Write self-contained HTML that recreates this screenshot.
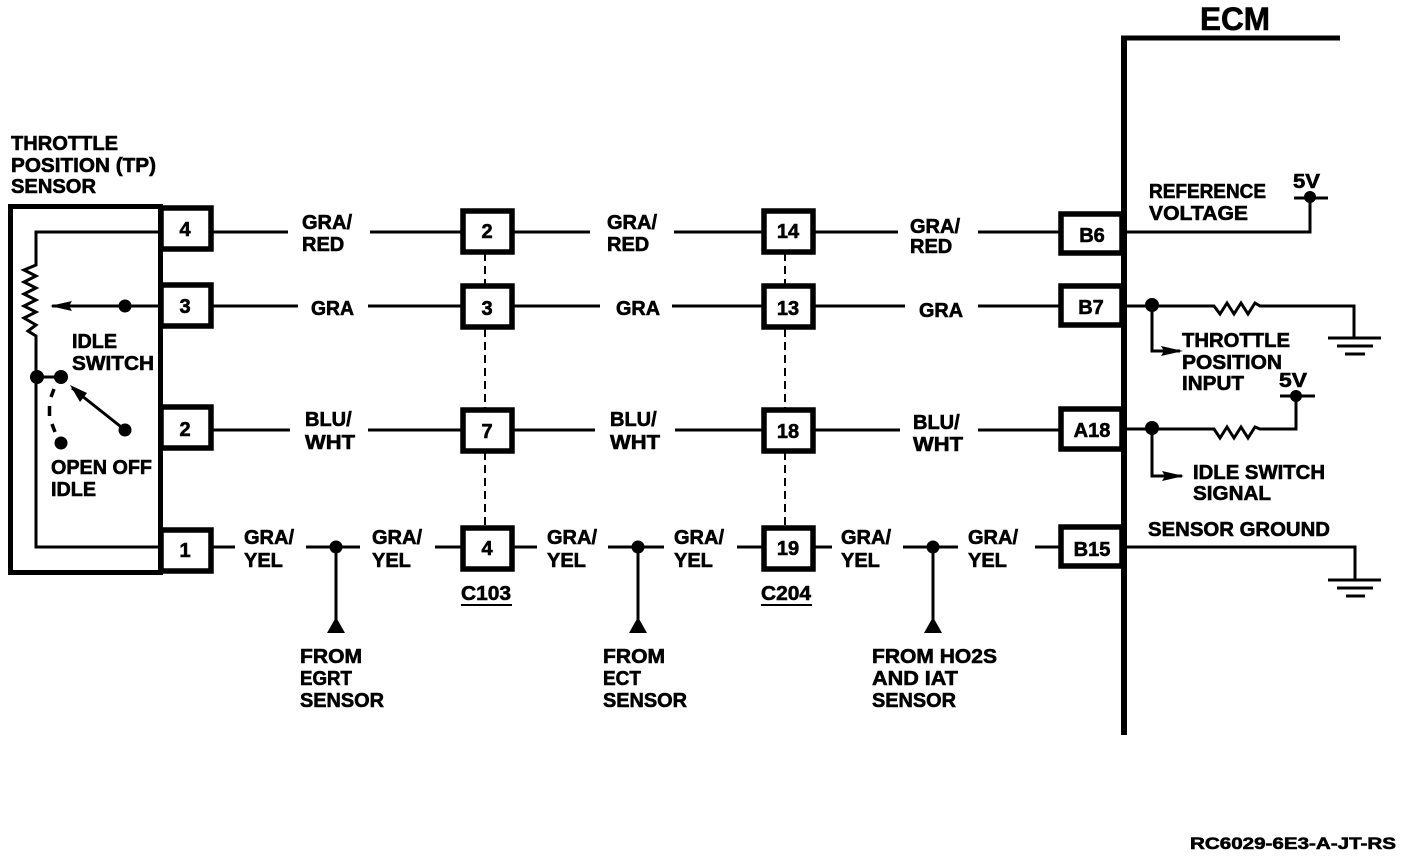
<!DOCTYPE html>
<html><head><meta charset="utf-8"><style>
html,body{margin:0;padding:0;background:#fff}
svg{display:block}
text{font-family:"Liberation Sans",sans-serif;font-weight:bold;font-size:20px;fill:#000;stroke:#000;stroke-width:.6}
</style></head><body>
<svg width="1408" height="856" viewBox="0 0 1408 856" xmlns="http://www.w3.org/2000/svg">
<rect width="1408" height="856" fill="#fff"/>
<!-- ECM -->
<g fill="none" stroke="#000">
<path d="M1124 735V38" stroke-width="6"/>
<path d="M1121 38H1340" stroke-width="5"/>
<!-- sensor -->
<rect x="10.500" y="206.500" width="150" height="366" stroke-width="5"/>
<!-- connector boxes -->
<g stroke-width="5.500">
<rect x="161" y="208" width="50" height="41"/><rect x="161" y="285" width="50" height="41"/><rect x="161" y="407" width="50" height="41"/><rect x="161" y="530" width="50" height="41"/>
<rect x="463" y="211" width="49" height="41"/><rect x="463" y="286" width="49" height="41"/><rect x="463" y="410" width="49" height="41"/><rect x="463" y="528" width="49" height="41"/>
<rect x="764" y="211" width="49" height="41"/><rect x="764" y="286" width="49" height="41"/><rect x="764" y="410" width="49" height="41"/><rect x="764" y="528" width="49" height="41"/>
<rect x="1061" y="214" width="61" height="39"/><rect x="1061" y="286" width="61" height="39"/><rect x="1061" y="409" width="61" height="40"/><rect x="1061" y="527" width="61" height="39"/>
</g>
<!-- wires -->
<g stroke-width="3">
<path d="M212 232H288M370 232H462M514 232H590M674 232H762M815 232H898M978 232H1059"/>
<path d="M212 306H298M368 306H462M514 306H600M672 306H762M815 306H905M978 306H1059"/>
<path d="M212 430H290M368 430H462M514 430H595M675 430H762M815 430H900M978 430H1059"/>
<path d="M212 547H235M306 547H360M435 547H462M514 547H537M608 547H664M737 547H762M815 547H832M903 547H958M1035 547H1059"/>
<path d="M336 547V620M638 547V620M933 547V620"/>
<!-- inside sensor -->
<path d="M160 232H36V265L24 270L36 276L24 282L36 288L24 294L36 300L24 306L36 312L24 318L36 325L28 331L36 336V547H160"/>
<path d="M160 306H52"/>
<path d="M37 377H61"/>
<path d="M125 430L72 388"/>
<!-- right side -->
<path d="M1127 232H1310V197M1294 198H1328"/>
<path d="M1127 306H1214L1220 314L1227 303L1234 314L1241 303L1248 314L1255 303L1260 306H1354V337M1328 338H1381M1337 346H1373M1345 354H1365"/>
<path d="M1152 306V351H1180"/>
<path d="M1127 429H1214L1220 438L1227 427L1234 438L1241 427L1248 438L1255 427L1260 429H1296V395M1280 396H1315"/>
<path d="M1152 429V476H1182"/>
<path d="M1127 547H1355V579M1328 580H1381M1337 588H1373M1346 596H1365"/>
<path d="M461 605H512M761 605H812" stroke-width="2"/>
</g>
<path d="M54 389L51 397M49.500 406V416M52 424L55 432" stroke-width="3.500"/>
<!-- connector dashes -->
<path d="M485 253V285M485 329V408M485 452V527M785 253V285M785 329V408M785 452V527" stroke-width="2" stroke-dasharray="8 5"/>
</g>
<!-- dots -->
<g fill="#000">
<circle cx="37" cy="377" r="7"/><circle cx="61" cy="377" r="7"/><circle cx="125" cy="306" r="6.500"/><circle cx="125" cy="430" r="6.500"/><circle cx="61" cy="443" r="6.500"/>
<circle cx="336" cy="547" r="6.500"/><circle cx="638" cy="547" r="6.500"/><circle cx="933" cy="547" r="6.500"/>
<circle cx="1152" cy="305" r="7"/><circle cx="1152" cy="428" r="7"/><circle cx="1310" cy="197" r="6"/><circle cx="1296" cy="396" r="6"/>
<path d="M50 306L72 301L69 306L72 311Z"/>
<path d="M70 385L87 393L80 402Z"/>
<path d="M1183 351L1161 346L1164 351L1161 356Z"/>
<path d="M1184 476L1162 471L1165 476L1162 481Z"/>
<path d="M336 617L345 633H327Z"/><path d="M638 617L647 633H629Z"/><path d="M933 617L942 633H924Z"/>
</g>
<!-- labels -->
<text x="1200" y="30" style="font-size:32px" textLength="70" lengthAdjust="spacingAndGlyphs">ECM</text>
<g>
<text x="11" y="150" textLength="107" lengthAdjust="spacingAndGlyphs">THROTTLE</text>
<text x="11" y="172" textLength="145" lengthAdjust="spacingAndGlyphs">POSITION (TP)</text>
<text x="11" y="193" textLength="85" lengthAdjust="spacingAndGlyphs">SENSOR</text>
<text x="72" y="348" textLength="45" lengthAdjust="spacingAndGlyphs">IDLE</text>
<text x="72" y="370" textLength="82" lengthAdjust="spacingAndGlyphs">SWITCH</text>
<text x="51" y="474" textLength="101" lengthAdjust="spacingAndGlyphs">OPEN OFF</text>
<text x="51" y="496" textLength="45" lengthAdjust="spacingAndGlyphs">IDLE</text>
</g>
<g text-anchor="middle">
<text x="185" y="236">4</text><text x="185" y="313">3</text><text x="185" y="436">2</text><text x="185" y="557">1</text>
<text x="487" y="238">2</text><text x="487" y="315">3</text><text x="487" y="438">7</text><text x="487" y="555">4</text>
<text x="788" y="238">14</text><text x="788" y="315">13</text><text x="788" y="438">18</text><text x="788" y="555">19</text>
<text x="1092" y="242">B6</text><text x="1091" y="314">B7</text><text x="1092" y="437">A18</text><text x="1092" y="556">B15</text>
</g>
<g>
<text x="302" y="229">GRA/</text><text x="302" y="251">RED</text>
<text x="607" y="229">GRA/</text><text x="607" y="251">RED</text>
<text x="910" y="233">GRA/</text><text x="910" y="253">RED</text>
<text x="311" y="315" textLength="43" lengthAdjust="spacingAndGlyphs">GRA</text><text x="616" y="315" textLength="44" lengthAdjust="spacingAndGlyphs">GRA</text><text x="919" y="317" textLength="44" lengthAdjust="spacingAndGlyphs">GRA</text>
<text x="305" y="426">BLU/</text><text x="305" y="449" textLength="50" lengthAdjust="spacingAndGlyphs">WHT</text>
<text x="610" y="426">BLU/</text><text x="610" y="449" textLength="50" lengthAdjust="spacingAndGlyphs">WHT</text>
<text x="913" y="429">BLU/</text><text x="913" y="451" textLength="50" lengthAdjust="spacingAndGlyphs">WHT</text>
<text x="244" y="544">GRA/</text><text x="244" y="567">YEL</text>
<text x="372" y="544">GRA/</text><text x="372" y="567">YEL</text>
<text x="547" y="544">GRA/</text><text x="547" y="567">YEL</text>
<text x="674" y="544">GRA/</text><text x="674" y="567">YEL</text>
<text x="841" y="544">GRA/</text><text x="841" y="567">YEL</text>
<text x="968" y="544">GRA/</text><text x="968" y="567">YEL</text>
<text x="461" y="600" textLength="50" lengthAdjust="spacingAndGlyphs">C103</text>
<text x="761" y="600" textLength="50" lengthAdjust="spacingAndGlyphs">C204</text>
<text x="300" y="663" textLength="62" lengthAdjust="spacingAndGlyphs">FROM</text><text x="300" y="685" textLength="52" lengthAdjust="spacingAndGlyphs">EGRT</text><text x="300" y="707" textLength="84" lengthAdjust="spacingAndGlyphs">SENSOR</text>
<text x="603" y="663" textLength="62" lengthAdjust="spacingAndGlyphs">FROM</text><text x="603" y="685" textLength="38" lengthAdjust="spacingAndGlyphs">ECT</text><text x="603" y="707" textLength="84" lengthAdjust="spacingAndGlyphs">SENSOR</text>
<text x="872" y="663" textLength="125" lengthAdjust="spacingAndGlyphs">FROM HO2S</text><text x="872" y="685" textLength="86" lengthAdjust="spacingAndGlyphs">AND IAT</text><text x="872" y="707" textLength="84" lengthAdjust="spacingAndGlyphs">SENSOR</text>
<text x="1149" y="198" textLength="117" lengthAdjust="spacingAndGlyphs">REFERENCE</text>
<text x="1149" y="220" textLength="99" lengthAdjust="spacingAndGlyphs">VOLTAGE</text>
<text x="1293" y="188" textLength="27" lengthAdjust="spacingAndGlyphs">5V</text>
<text x="1182" y="347" textLength="108" lengthAdjust="spacingAndGlyphs">THROTTLE</text>
<text x="1182" y="369" textLength="100" lengthAdjust="spacingAndGlyphs">POSITION</text>
<text x="1182" y="390" textLength="62" lengthAdjust="spacingAndGlyphs">INPUT</text>
<text x="1279" y="387" textLength="28" lengthAdjust="spacingAndGlyphs">5V</text>
<text x="1193" y="479" textLength="132" lengthAdjust="spacingAndGlyphs">IDLE SWITCH</text>
<text x="1193" y="500" textLength="78" lengthAdjust="spacingAndGlyphs">SIGNAL</text>
<text x="1148" y="536" textLength="182" lengthAdjust="spacingAndGlyphs">SENSOR GROUND</text>
<text x="1190" y="849" style="font-size:17px" textLength="206" lengthAdjust="spacingAndGlyphs">RC6029-6E3-A-JT-RS</text>
</g>
</svg>
</body></html>
